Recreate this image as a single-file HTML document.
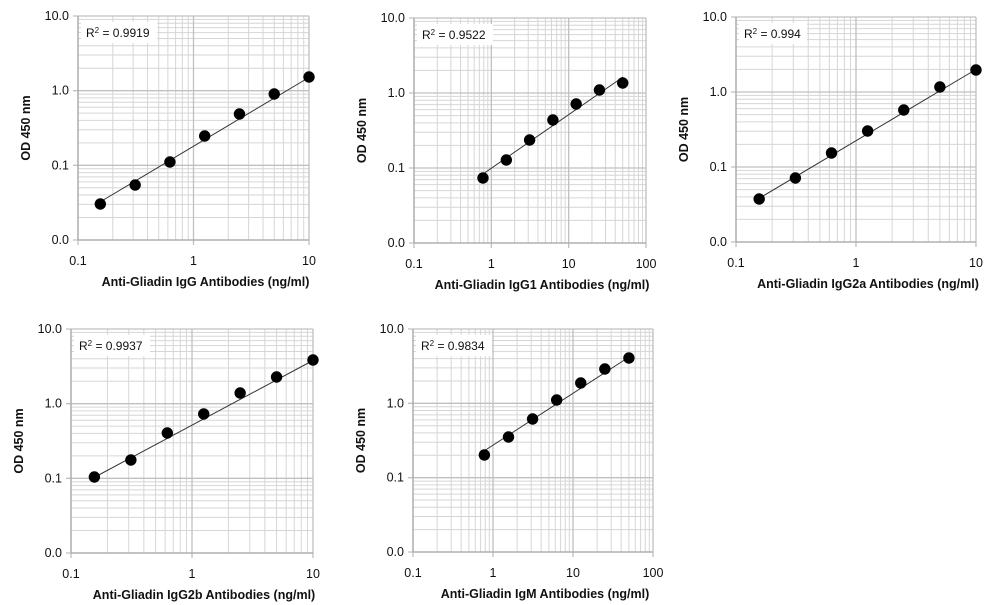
<!DOCTYPE html>
<html><head><meta charset="utf-8"><style>
html,body{margin:0;padding:0;background:#fff;width:1000px;height:605px;overflow:hidden}
svg text{font-family:"Liberation Sans",Arial,sans-serif;fill:#111}
</style></head><body>
<svg id="s" width="1000" height="605" xmlns="http://www.w3.org/2000/svg"></svg>
<script>
var charts=[
{x0:78,x1:309,y0:16,y1:240,xd:[-1,1],r:"0.9919",t:"Anti-Gliadin IgG Antibodies (ng/ml)",
 px:[0.156,0.3125,0.625,1.25,2.5,5,10],py:[204,185,162,136,114,94,77],l:[100,202,308,78]},
{x0:414,x1:646,y0:18,y1:243,xd:[-1,2],r:"0.9522",t:"Anti-Gliadin IgG1 Antibodies (ng/ml)",
 px:[0.78,1.5625,3.125,6.25,12.5,25,50],py:[178,160,140,120,104,90,83],l:[483,174,623,77]},
{x0:736,x1:976,y0:17,y1:242,xd:[-1,1],r:"0.994",t:"Anti-Gliadin IgG2a Antibodies (ng/ml)",
 px:[0.156,0.3125,0.625,1.25,2.5,5,10],py:[199,178,153,131,110,87,70],l:[758,199,975,70]},
{x0:71,x1:313,y0:329,y1:553,xd:[-1,1],r:"0.9937",t:"Anti-Gliadin IgG2b Antibodies (ng/ml)",
 px:[0.156,0.3125,0.625,1.25,2.5,5,10],py:[477,460,433,414,393,377,360],l:[95,477,312,361]},
{x0:413,x1:653,y0:329,y1:552,xd:[-1,2],r:"0.9834",t:"Anti-Gliadin IgM Antibodies (ng/ml)",
 px:[0.78,1.5625,3.125,6.25,12.5,25,50],py:[455,437,419,400,383,369,358],l:[484,451,629,357]}
];
var h='';
charts.forEach(function(c){
 var nd=c.xd[1]-c.xd[0],dw=(c.x1-c.x0)/nd,dh=(c.y1-c.y0)/3;
 function X(v){return c.x0+(Math.log10(v)-c.xd[0])*dw;}
 for(var d=0;d<nd;d++)for(var k=2;k<10;k++){var x=c.x0+(d+Math.log10(k))*dw;h+='<line x1="'+x+'" y1="'+c.y0+'" x2="'+x+'" y2="'+c.y1+'" stroke="#d6d6d6" stroke-width="1"/>';}
 for(var d=0;d<3;d++)for(var k=2;k<10;k++){var y=c.y1-(d+Math.log10(k))*dh;h+='<line x1="'+c.x0+'" y1="'+y+'" x2="'+c.x1+'" y2="'+y+'" stroke="#d6d6d6" stroke-width="1"/>';}
 for(var d=0;d<=nd;d++){var x=c.x0+d*dw;h+='<line x1="'+x+'" y1="'+c.y0+'" x2="'+x+'" y2="'+(c.y1+5)+'" stroke="#c0c0c0" stroke-width="1.3"/>';
  var lab=['0.1','1','10','100'][d];h+='<text x="'+x+'" y="'+(c.y1+25)+'" font-size="12.5" text-anchor="middle">'+lab+'</text>';}
 for(var d=0;d<=3;d++){var y=c.y1-d*dh;h+='<line x1="'+(c.x0-5)+'" y1="'+y+'" x2="'+c.x1+'" y2="'+y+'" stroke="#c0c0c0" stroke-width="1.3"/>';
  h+='<text x="'+(c.x0-9)+'" y="'+(y+4)+'" font-size="12.5" text-anchor="end">'+['0.0','0.1','1.0','10.0'][d]+'</text>';}
 h+='<line x1="'+c.x0+'" y1="'+c.y0+'" x2="'+c.x0+'" y2="'+c.y1+'" stroke="#aaa" stroke-width="1.3"/>';
 h+='<line x1="'+c.x0+'" y1="'+c.y1+'" x2="'+c.x1+'" y2="'+c.y1+'" stroke="#aaa" stroke-width="1.3"/>';
 h+='<rect x="'+(c.x0+3)+'" y="'+(c.y0+6)+'" width="'+(c.r.length>5?76:68)+'" height="21" fill="#fff"/>';
 h+='<text x="'+(c.x0+8)+'" y="'+(c.y0+21)+'" font-size="12">R<tspan font-size="8" dy="-4">2</tspan><tspan dy="4"> = '+c.r+'</tspan></text>';
 h+='<line x1="'+c.l[0]+'" y1="'+c.l[1]+'" x2="'+c.l[2]+'" y2="'+c.l[3]+'" stroke="#333" stroke-width="1"/>';
 c.px.forEach(function(v,i){h+='<circle cx="'+X(v)+'" cy="'+c.py[i]+'" r="5.7" fill="#000"/>';});
 var cy=(c.y0+c.y1)/2,tx=c.x0-48;
 h+='<text x="'+tx+'" y="'+cy+'" font-size="12.5" font-weight="bold" text-anchor="middle" transform="rotate(-90 '+tx+' '+cy+')">OD 450 nm</text>';
 h+='<text x="'+((c.x0+c.x1)/2+12)+'" y="'+(c.y1+46)+'" font-size="12.5" font-weight="bold" text-anchor="middle">'+c.t+'</text>';
});
document.getElementById('s').innerHTML=h;
</script>
</body></html>
